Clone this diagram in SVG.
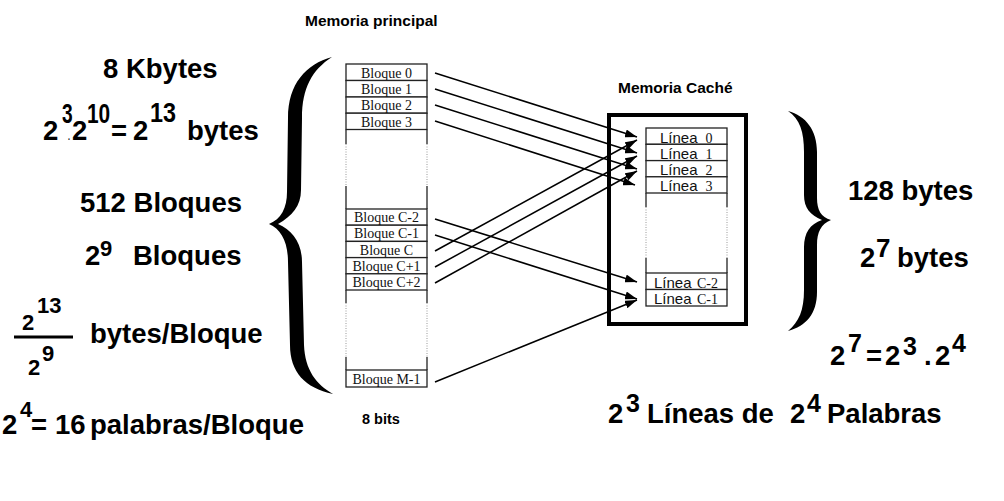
<svg xmlns="http://www.w3.org/2000/svg" width="1004" height="501" viewBox="0 0 1004 501">
<style>
.b27{font-family:'Liberation Sans',Arial,sans-serif;font-weight:bold;font-size:27.5px;fill:#000}
.b22{font-family:'Liberation Sans',Arial,sans-serif;font-weight:bold;font-size:22px;fill:#000}
.b16{font-family:'Liberation Sans',Arial,sans-serif;font-weight:bold;font-size:15.5px;fill:#000}
.blk rect{fill:#fff;stroke:#222;stroke-width:1.3}
.blbl{font-family:'Liberation Serif','Times New Roman',serif;font-size:14px;fill:#111;text-anchor:middle}
.lin{font-family:'Liberation Sans',Arial,sans-serif;font-size:15px;fill:#111}
.num{font-family:'Liberation Serif','Times New Roman',serif;font-size:14px;fill:#111}
.side{stroke:#222;stroke-width:1.3}
.dot{stroke:#999;stroke-width:1;stroke-dasharray:1 1.5}
.arr{stroke:#000;stroke-width:1.5;fill:none;marker-end:url(#ah)}
.brace{fill:#000}
</style>
<defs>
<marker id="ah" viewBox="0 0 12 8" refX="12" refY="4" markerWidth="12" markerHeight="8" markerUnits="userSpaceOnUse" orient="auto">
<path d="M0,0 L12,4 L0,8 z" fill="#000"/>
</marker>
</defs>
<rect width="1004" height="501" fill="#fff"/>

<!-- titles -->
<text class="b16" x="305" y="26">Memoria principal</text>
<text class="b16" x="618" y="93">Memoria Caché</text>
<text class="b16" x="362" y="424" style="font-size:14.5px">8 bits</text>

<!-- main memory -->
<g id="main-memory">
<g id="bloque-0" class="blk"><rect x="346" y="64" width="81" height="16.5"/><text class="blbl" x="386.5" y="77.5">Bloque 0</text></g>
<g id="bloque-1" class="blk"><rect x="346" y="80.5" width="81" height="16.5"/><text class="blbl" x="386.5" y="94">Bloque 1</text></g>
<g id="bloque-2" class="blk"><rect x="346" y="97" width="81" height="16.2"/><text class="blbl" x="386.5" y="110.3">Bloque 2</text></g>
<g id="bloque-3" class="blk"><rect x="346" y="113.2" width="81" height="16.3"/><text class="blbl" x="386.5" y="126.5">Bloque 3</text></g>
<g id="gap-1">
<line class="side" x1="346" y1="129.5" x2="346" y2="144"/><line class="side" x1="427" y1="129.5" x2="427" y2="144"/>
<line class="dot" x1="346" y1="144" x2="346" y2="186"/><line class="dot" x1="427" y1="144" x2="427" y2="186"/>
<line class="side" x1="346" y1="186" x2="346" y2="209"/><line class="side" x1="427" y1="186" x2="427" y2="209"/>
</g>
<g id="bloque-c-2" class="blk"><rect x="346" y="209" width="81" height="16.2"/><text class="blbl" x="386.5" y="222.2">Bloque C-2</text></g>
<g id="bloque-c-1" class="blk"><rect x="346" y="225.2" width="81" height="16.2"/><text class="blbl" x="386.5" y="238.4">Bloque C-1</text></g>
<g id="bloque-c" class="blk"><rect x="346" y="241.4" width="81" height="16.2"/><text class="blbl" x="386.5" y="254.6">Bloque C</text></g>
<g id="bloque-c1" class="blk"><rect x="346" y="257.6" width="81" height="16.2"/><text class="blbl" x="386.5" y="270.8">Bloque C+1</text></g>
<g id="bloque-c2" class="blk"><rect x="346" y="273.8" width="81" height="16.2"/><text class="blbl" x="386.5" y="287">Bloque C+2</text></g>
<g id="gap-2">
<line class="side" x1="346" y1="290" x2="346" y2="303"/><line class="side" x1="427" y1="290" x2="427" y2="303"/>
<line class="dot" x1="346" y1="303" x2="346" y2="357"/><line class="dot" x1="427" y1="303" x2="427" y2="357"/>
<line class="side" x1="346" y1="357" x2="346" y2="370"/><line class="side" x1="427" y1="357" x2="427" y2="370"/>
</g>
<g id="bloque-m-1" class="blk"><rect x="346" y="370" width="81" height="17"/><text class="blbl" x="386.5" y="383.5">Bloque M-1</text></g>
</g>

<!-- cache -->
<g id="cache">
<rect id="cache-box" x="609" y="115" width="137" height="209" fill="none" stroke="#000" stroke-width="4"/>
<g id="linea-0" class="blk"><rect x="646" y="128" width="81" height="16.3"/><text class="lin" x="660" y="142.5">Línea</text><text class="num" x="705.5" y="142.5">0</text></g>
<g id="linea-1" class="blk"><rect x="646" y="144.3" width="81" height="16.3"/><text class="lin" x="660" y="158.8">Línea</text><text class="num" x="705.5" y="158.8">1</text></g>
<g id="linea-2" class="blk"><rect x="646" y="160.6" width="81" height="16.2"/><text class="lin" x="660" y="175">Línea</text><text class="num" x="705.5" y="175">2</text></g>
<g id="linea-3" class="blk"><rect x="646" y="176.8" width="81" height="16.2"/><text class="lin" x="660" y="191.2">Línea</text><text class="num" x="705.5" y="191.2">3</text></g>
<g id="gap-3">
<line class="side" x1="646" y1="193" x2="646" y2="207"/><line class="side" x1="727" y1="193" x2="727" y2="207"/>
<line class="dot" x1="646" y1="207" x2="646" y2="258"/><line class="dot" x1="727" y1="207" x2="727" y2="258"/>
<line class="side" x1="646" y1="258" x2="646" y2="273"/><line class="side" x1="727" y1="258" x2="727" y2="273"/>
</g>
<g id="linea-c-2" class="blk"><rect x="646" y="273" width="81" height="16.5"/><text class="lin" x="654" y="287.5">Línea</text><text class="num" x="697" y="287.5">C-2</text></g>
<g id="linea-c-1" class="blk"><rect x="646" y="289.5" width="81" height="16.5"/><text class="lin" x="654" y="304">Línea</text><text class="num" x="697" y="304">C-1</text></g>
</g>

<!-- connectors -->
<g id="connectors">
<line class="arr" x1="435" y1="73" x2="637" y2="137"/>
<line class="arr" x1="435" y1="89" x2="637" y2="153"/>
<line class="arr" x1="435" y1="105" x2="637" y2="169"/>
<line class="arr" x1="435" y1="121" x2="635" y2="185"/>
<line class="arr" x1="435" y1="219" x2="637" y2="282"/>
<line class="arr" x1="435" y1="235" x2="637" y2="299"/>
<line class="arr" x1="435" y1="251" x2="637" y2="140"/>
<line class="arr" x1="435" y1="267" x2="637" y2="156"/>
<line class="arr" x1="435" y1="283" x2="637" y2="171"/>
<line class="arr" x1="435" y1="382" x2="637" y2="300"/>
</g>

<!-- braces -->
<path id="brace-left" class="brace" d="M332 57 C306 64,288 84,288 118 L287 192 C287 208,281 219,269 224 C281 229,288 242,288 262 L290 345 C290 372,305 388,333 394 C316 384,305 370,304 345 L302 262 C302 243,292 230,278 224 C292 216,301 206,301 190 L302 118 C302 88,312 70,332 57 Z"/>
<path id="brace-right" class="brace" d="M788 111 C806 116,817 130,817 152 L817 198 C817 210,821 217,831 220 C821 224,817 232,817 245 L817 292 C817 314,806 326,788 331 C799 322,804 310,804 290 L804 247 C804 233,810 224,822 220 C810 215,804 208,804 195 L804 152 C804 132,800 119,788 111 Z"/>

<!-- left annotations -->
<g id="left-notes">
<text class="b27" x="103" y="78">8 Kbytes</text>
<text class="b27" x="43" y="140">2</text>
<text class="b27" transform="translate(62,123) scale(0.7,1)">3<tspan x="8.6" y="17" style="font-size:10px">.</tspan></text>
<text class="b27" x="72" y="140">2</text>
<text class="b27" transform="translate(87,123) scale(0.76,1)">10</text>
<text class="b27" x="111" y="140">=</text>
<text class="b27" x="133" y="140">2</text>
<text class="b27" transform="translate(150,122) scale(0.85,1)">13</text>
<text class="b27" x="187" y="140">bytes</text>

<text class="b27" x="80" y="212">512 Bloques</text>
<text class="b27"><tspan x="85" y="265">2</tspan><tspan x="100" y="256" style="font-size:22px">9</tspan><tspan x="133" y="265">Bloques</tspan></text>

<text class="b22"><tspan x="22" y="330">2</tspan><tspan x="37" y="313">13</tspan></text>
<line x1="14" y1="337" x2="73" y2="337" stroke="#000" stroke-width="3"/>
<text class="b22"><tspan x="28" y="375">2</tspan><tspan x="42" y="361">9</tspan></text>
<text class="b27" x="90" y="343">bytes/Bloque</text>

<text class="b27"><tspan x="2" y="434">2</tspan><tspan x="20" y="417" style="font-size:22px">4</tspan><tspan x="31" y="434">=</tspan><tspan x="55" y="434">16</tspan><tspan x="90" y="434">palabras/Bloque</tspan></text>
</g>

<!-- right annotations -->
<g id="right-notes">
<text class="b27" x="848" y="200">128 bytes</text>
<text class="b27"><tspan x="860" y="267">2</tspan><tspan x="876" y="257" style="font-size:26px">7</tspan><tspan x="897" y="267">bytes</tspan></text>

<text class="b27"><tspan x="830" y="365">2</tspan><tspan x="848" y="352" style="font-size:25px">7</tspan><tspan x="866" y="365">=</tspan><tspan x="885" y="365">2</tspan><tspan x="903" y="355" style="font-size:25px">3</tspan><tspan x="924" y="365">.</tspan><tspan x="935" y="365">2</tspan><tspan x="952" y="352" style="font-size:25px">4</tspan></text>

<text class="b27"><tspan x="608" y="423">2</tspan><tspan x="626" y="412" style="font-size:25px">3</tspan><tspan x="647" y="423">Líneas de</tspan><tspan x="790" y="423">2</tspan><tspan x="807" y="412" style="font-size:25px">4</tspan><tspan x="827" y="423">Palabras</tspan></text>
</g>
</svg>
